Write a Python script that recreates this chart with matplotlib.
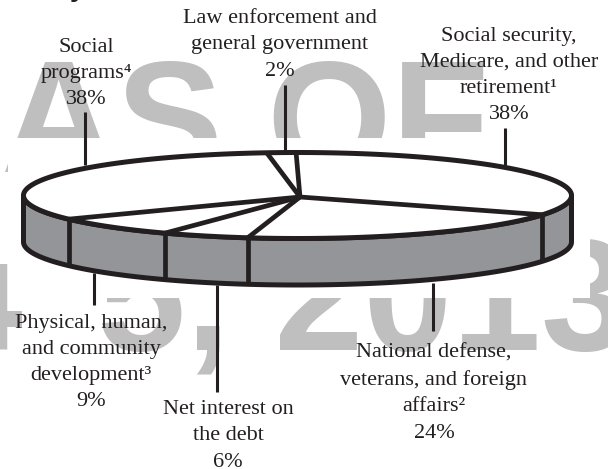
import numpy as np
import matplotlib
matplotlib.use('Agg')
import matplotlib.pyplot as plt
from matplotlib.patches import Rectangle, Polygon

plt.rcParams['font.family'] = ['Liberation Serif', 'DejaVu Serif']

# Budget shares, clockwise from the top of the disc
categories = [
    'Social security,\nMedicare, and other\nretirement¹',
    'National defense,\nveterans, and foreign\naffairs²',
    'Net interest on\nthe debt',
    'Physical, human,\nand community\ndevelopment³',
    'Social\nprograms⁴',
    'Law enforcement and\ngeneral government',
]
shares = [38, 24, 6, 9, 38, 2]

INK = '#231f20'
BAND = '#939598'
STAMP = '#bfbfbf'

# Disc geometry in pixels
CX, CY = 297.5, 195.5
RX, RY = 274, 43
DEPTH = 46.5
HUB = (300, 197)
START = 90.3


def rim(deg, drop=0):
    a = np.radians(deg)
    return CX + RX * np.cos(a), CY - RY * np.sin(a) + drop


fig = plt.figure(figsize=(6.08, 4.69), dpi=100)
ax = fig.add_axes([0, 0, 1, 1])
ax.set_xlim(0, 608)
ax.set_ylim(469, 0)
ax.axis('off')

# Tail of the heading running off the top edge
ax.text(78, -3.5, 'y', ha='center', va='baseline', color=INK, fontsize=20, fontweight='bold',
        family='Liberation Sans', zorder=7, clip_on=True)

# Stamp lettering behind the chart, blanked out around the disc
stamp = dict(color=STAMP, fontsize=115, fontweight='bold', family='Liberation Sans',
             va='baseline', ha='left', zorder=1)
ax.text(1, 172, 'AS OF', **stamp)
ax.text(-66, 350, '4', **stamp)
ax.text(97, 350, '5, 2013', **stamp)
ax.add_patch(Rectangle((20, 138), 570, 160, fc='white', ec='none', zorder=2))
ax.add_patch(Rectangle((8, 138), 12, 126, fc='white', ec='none', zorder=2))
ax.add_patch(Rectangle((0, 176), 8, 88, fc='white', ec='none', zorder=2))

# Slice boundaries, going clockwise
edges = START - 360 * np.cumsum(shares) / np.sum(shares)
rim_lw = 3.6
div_lw = 3.4

front = np.linspace(180, 360, 200)
top_x, top_y = rim(front)
bot_x, bot_y = rim(front, DEPTH)
band = np.column_stack([np.r_[top_x, bot_x[::-1]], np.r_[top_y, bot_y[::-1]]])
ax.add_patch(Polygon(band, fc=BAND, ec=INK, lw=rim_lw, joinstyle='round', zorder=3))

# Band dividers on the front half
for e in edges:
    if np.sin(np.radians(e)) < 0:
        x0, y0 = rim(e)
        x1, y1 = rim(e, DEPTH)
        ax.plot([x0, x1], [y0, y1], color=INK, lw=div_lw, solid_capstyle='butt', zorder=4)

# Top face and spokes
theta = np.linspace(0, 360, 400)
ex, ey = rim(theta)
ax.fill(ex, ey, fc='white', ec=INK, lw=rim_lw, zorder=5)
for e in edges:
    x1, y1 = rim(e)
    ax.plot([HUB[0], x1], [HUB[1], y1], color=INK, lw=div_lw, solid_capstyle='butt', zorder=6)

# Leader lines
leaders = [
    (505, 128, 165), (433, 283, 331), (217, 285, 392),
    (94, 273, 305), (85, 112, 165), (285, 85, 151),
]
for x, y0, y1 in leaders:
    ax.plot([x, x], [y0, y1], color=INK, lw=2.2, solid_capstyle='butt', zorder=4)

# Labels
label_pos = [(509, 75.5), (434, 393), (228, 436), (91, 362.5), (86, 73.5), (280, 45)]
for name, share, (x, y) in zip(categories, shares, label_pos):
    ax.text(x, y, f'{name}\n{share}%', ha='center', va='center', color=INK,
            fontsize=16, linespacing=1.52, zorder=7)

fig.savefig('out.png', dpi=100)
